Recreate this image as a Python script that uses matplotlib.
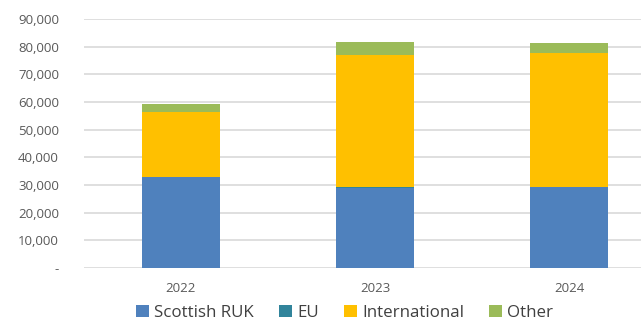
import matplotlib
matplotlib.use("Agg")
import matplotlib.pyplot as plt
import numpy as np
from matplotlib.ticker import FuncFormatter

years = ["2022", "2023", "2024"]
scottish_ruk = [33000, 28900, 29300]
eu = [50, 300, 100]
international = [23250, 47800, 48400]
other = [3000, 4600, 3400]

series = [("Scottish RUK", scottish_ruk, "#4F81BD"),
          ("EU", eu, "#31849B"),
          ("International", international, "#FFC000"),
          ("Other", other, "#9BBB59")]

plt.rcParams['font.family'] = ['Open Sans', 'DejaVu Sans']

fig = plt.figure(figsize=(6.41, 3.20), dpi=100)
ax = fig.add_axes([0.131, 0.1625, 0.869, 0.778])

x = np.arange(len(years))
bottom = np.zeros(len(years))
for name, vals, col in series:
    vals = np.array(vals, dtype=float)
    ax.bar(x, vals, bottom=bottom, width=0.4, color=col, label=name, zorder=3)
    bottom += vals

ax.set_ylim(0, 90000)
ax.set_xlim(-0.5, 2.371)
ax.set_yticks(np.arange(0, 90001, 10000))
ax.yaxis.set_major_formatter(FuncFormatter(lambda v, p: "-" if v == 0 else f"{int(v):,}"))
ax.set_xticks(x)
ax.set_xticklabels(years)
ax.grid(axis='y', color='#D9D9D9', linewidth=1.2, zorder=0)
for s in ax.spines.values():
    s.set_visible(False)
ax.tick_params(axis='both', length=0, labelsize=9.5, colors='#595959')
ax.tick_params(axis='y', pad=18)
ax.tick_params(axis='x', pad=10)

handles, labels = ax.get_legend_handles_labels()
fig.legend(handles, labels, loc='center', bbox_to_anchor=(0.538, 0.022), ncol=4,
           frameon=False, fontsize=12.2, handlelength=0.75, handleheight=0.75,
           handletextpad=0.3, columnspacing=1.5, labelcolor='#404040')

fig.savefig("out.png", dpi=100)
